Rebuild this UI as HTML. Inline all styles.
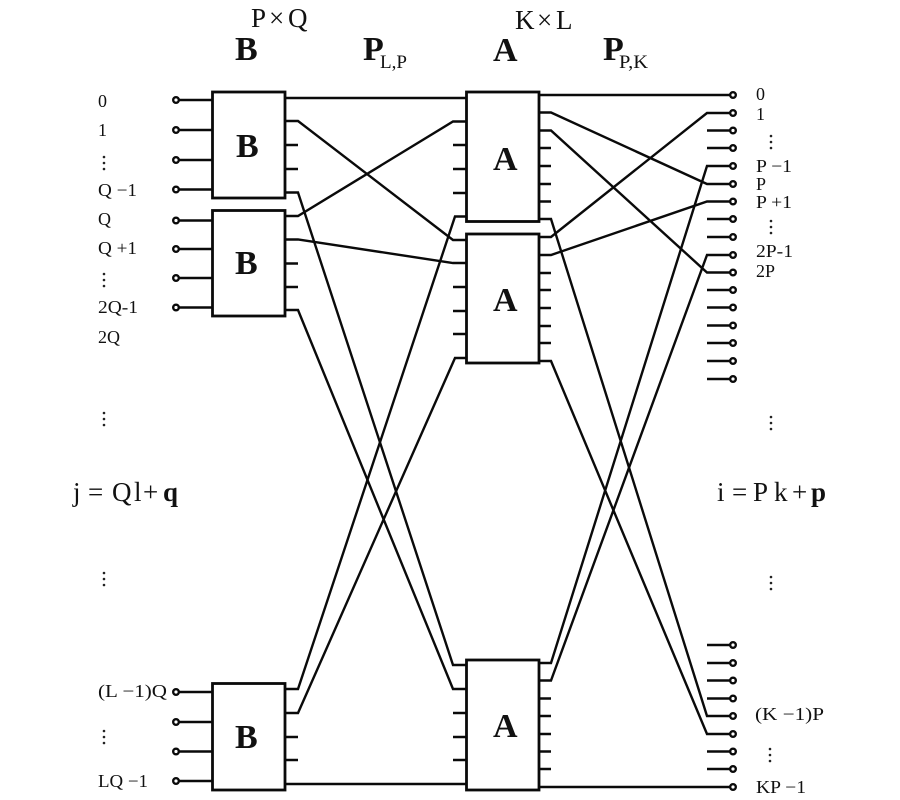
<!DOCTYPE html>
<html><head><meta charset="utf-8"><style>
html,body{margin:0;padding:0;background:#fff}
svg{display:block}
text{font-family:"Liberation Serif",serif;fill:#111}
.l{font-size:18px}
.b{font-weight:bold}
</style></head><body>
<svg width="900" height="800" viewBox="0 0 900 800" xmlns="http://www.w3.org/2000/svg">
<g fill="#fff" stroke="#0a0a0a" stroke-width="2.800">
<rect x="212.500" y="92" width="72.500" height="106"/>
<rect x="212.500" y="210.500" width="72.500" height="105.500"/>
<rect x="212.500" y="683.500" width="72.500" height="106.500"/>
<rect x="466.500" y="92" width="72.500" height="129.500"/>
<rect x="466.500" y="234" width="72.500" height="129"/>
<rect x="466.500" y="660" width="72.500" height="130"/>
</g>
<g fill="none" stroke="#0a0a0a" stroke-width="2.400">
<path d="M177 100H212M177 130H212M177 160H212M177 189.500H212M177 220.500H212M177 249H212M177 278H212M177 307.500H212M177 692H212M177 722H212M177 751.500H212M177 781H212"/>
<path d="M285 145H298M285 169H298M285 263.500H298M285 287H298M285 737H298M285 760H298"/>
<path d="M453 145H466M453 169H466M453 193H466M453 287H466M453 311H466M453 334H466M453 713H466M453 737H466M453 760H466"/>
<path d="M539 148H551M539 166H551M539 184H551M539 201.500H551M539 273H551M539 290H551M539 308H551M539 326H551M539 343H551M539 698.500H551M539 716H551M539 734H551M539 751.500H551M539 769H551"/>
<path d="M707 130.500H733M707 148H733M707 219H733M707 237H733M707 290H733M707 307.500H733M707 325.500H733M707 343H733M707 361H733M707 379H733M707 645H733M707 663H733M707 680.500H733M707 698.500H733M707 751.500H733M707 769H733"/>
<path d="M285 98H466"/>
<path d="M285 121H298L453 240H466"/>
<path d="M285 192.500H298L453 665H466"/>
<path d="M285 216H298L453 121.500H466"/>
<path d="M285 239.500H298L453 263H466"/>
<path d="M285 310H298L453 689H466"/>
<path d="M285 689H298L455 216.500H466"/>
<path d="M285 713H298L455 358H466"/>
<path d="M285 784H466"/>
<path d="M539 95H733"/>
<path d="M539 112.500H551L707 184H733"/>
<path d="M539 130.500H551L707 272.500H733"/>
<path d="M539 219H551L707 716H733"/>
<path d="M539 237H551L707 113H733"/>
<path d="M539 255H551L707 201.500H733"/>
<path d="M539 361H551L707 734H733"/>
<path d="M539 663H551L707 166H733"/>
<path d="M539 680.500H551L707 255H733"/>
<path d="M539 787H733"/>
</g>
<g fill="#fff" stroke="#0a0a0a" stroke-width="2.400">
<circle cx="176" cy="100" r="2.800"/><circle cx="176" cy="130" r="2.800"/><circle cx="176" cy="160" r="2.800"/><circle cx="176" cy="189.500" r="2.800"/>
<circle cx="176" cy="220.500" r="2.800"/><circle cx="176" cy="249" r="2.800"/><circle cx="176" cy="278" r="2.800"/><circle cx="176" cy="307.500" r="2.800"/>
<circle cx="176" cy="692" r="2.800"/><circle cx="176" cy="722" r="2.800"/><circle cx="176" cy="751.500" r="2.800"/><circle cx="176" cy="781" r="2.800"/>
<circle cx="733" cy="95" r="2.800"/><circle cx="733" cy="113" r="2.800"/><circle cx="733" cy="130.500" r="2.800"/><circle cx="733" cy="148" r="2.800"/><circle cx="733" cy="166" r="2.800"/><circle cx="733" cy="184" r="2.800"/><circle cx="733" cy="201.500" r="2.800"/><circle cx="733" cy="219" r="2.800"/><circle cx="733" cy="237" r="2.800"/><circle cx="733" cy="255" r="2.800"/><circle cx="733" cy="272.500" r="2.800"/><circle cx="733" cy="290" r="2.800"/><circle cx="733" cy="307.500" r="2.800"/><circle cx="733" cy="325.500" r="2.800"/><circle cx="733" cy="343" r="2.800"/><circle cx="733" cy="361" r="2.800"/><circle cx="733" cy="379" r="2.800"/>
<circle cx="733" cy="645" r="2.800"/><circle cx="733" cy="663" r="2.800"/><circle cx="733" cy="680.500" r="2.800"/><circle cx="733" cy="698.500" r="2.800"/><circle cx="733" cy="716" r="2.800"/><circle cx="733" cy="734" r="2.800"/><circle cx="733" cy="751.500" r="2.800"/><circle cx="733" cy="769" r="2.800"/><circle cx="733" cy="787" r="2.800"/>
</g>
<g fill="#222">
<circle cx="104" cy="157" r="1.300"/><circle cx="104" cy="163" r="1.300"/><circle cx="104" cy="169" r="1.300"/>
<circle cx="104" cy="274" r="1.300"/><circle cx="104" cy="280" r="1.300"/><circle cx="104" cy="286" r="1.300"/>
<circle cx="104" cy="413" r="1.300"/><circle cx="104" cy="419" r="1.300"/><circle cx="104" cy="425" r="1.300"/>
<circle cx="104" cy="573" r="1.300"/><circle cx="104" cy="579" r="1.300"/><circle cx="104" cy="585" r="1.300"/>
<circle cx="104" cy="731" r="1.300"/><circle cx="104" cy="737" r="1.300"/><circle cx="104" cy="743" r="1.300"/>
<circle cx="771" cy="136" r="1.300"/><circle cx="771" cy="142" r="1.300"/><circle cx="771" cy="148" r="1.300"/>
<circle cx="771" cy="221" r="1.300"/><circle cx="771" cy="227" r="1.300"/><circle cx="771" cy="233" r="1.300"/>
<circle cx="771" cy="417" r="1.300"/><circle cx="771" cy="423" r="1.300"/><circle cx="771" cy="429" r="1.300"/>
<circle cx="771" cy="577" r="1.300"/><circle cx="771" cy="583" r="1.300"/><circle cx="771" cy="589" r="1.300"/>
<circle cx="770" cy="749" r="1.300"/><circle cx="770" cy="755" r="1.300"/><circle cx="770" cy="761" r="1.300"/>
</g>
<text x="251 269 288" y="27" font-size="27">P×Q</text>
<text x="515 537 556" y="29" font-size="27">K×L</text>
<text class="b" x="235" y="60" font-size="34">B</text>
<text class="b" x="493" y="61" font-size="34">A</text>
<text class="b" x="363" y="60" font-size="34">P</text>
<text x="380" y="68" font-size="19" textLength="27" lengthAdjust="spacingAndGlyphs">L,P</text>
<text class="b" x="603" y="60" font-size="34">P</text>
<text x="619" y="68" font-size="19" textLength="29" lengthAdjust="spacingAndGlyphs">P,K</text>
<text class="b" x="236" y="157" font-size="34">B</text>
<text class="b" x="235" y="274" font-size="34">B</text>
<text class="b" x="235" y="748" font-size="34">B</text>
<text class="b" x="493" y="170" font-size="34">A</text>
<text class="b" x="493" y="311" font-size="34">A</text>
<text class="b" x="493" y="737" font-size="34">A</text>
<g>
<text class="l" x="98" y="107">0</text>
<text class="l" x="98" y="136">1</text>
<text class="l" x="98" y="196" textLength="39" lengthAdjust="spacingAndGlyphs">Q −1</text>
<text class="l" x="98" y="225">Q</text>
<text class="l" x="98" y="254" textLength="39" lengthAdjust="spacingAndGlyphs">Q +1</text>
<text class="l" x="98" y="313" textLength="40" lengthAdjust="spacingAndGlyphs">2Q-1</text>
<text class="l" x="98" y="343">2Q</text>
<text class="l" x="98" y="697" textLength="69" lengthAdjust="spacingAndGlyphs">(L −1)Q</text>
<text class="l" x="98" y="787" textLength="50" lengthAdjust="spacingAndGlyphs">LQ −1</text>
<text class="l" x="756" y="100">0</text>
<text class="l" x="756" y="120">1</text>
<text class="l" x="756" y="172" textLength="36" lengthAdjust="spacingAndGlyphs">P −1</text>
<text class="l" x="756" y="190">P</text>
<text class="l" x="756" y="208" textLength="36" lengthAdjust="spacingAndGlyphs">P +1</text>
<text class="l" x="756" y="257" textLength="37" lengthAdjust="spacingAndGlyphs">2P-1</text>
<text class="l" x="756" y="277">2P</text>
<text class="l" x="755" y="720" textLength="69" lengthAdjust="spacingAndGlyphs">(K −1)P</text>
<text class="l" x="756" y="793" textLength="50" lengthAdjust="spacingAndGlyphs">KP −1</text>
</g>
<text x="73 88 112 134 143" y="501" font-size="27">j=Ql+<tspan class="b" x="163">q</tspan></text>
<text x="717 732 753 774 792" y="501" font-size="27">i=Pk+<tspan class="b" x="811">p</tspan></text>
</svg>
</body></html>
